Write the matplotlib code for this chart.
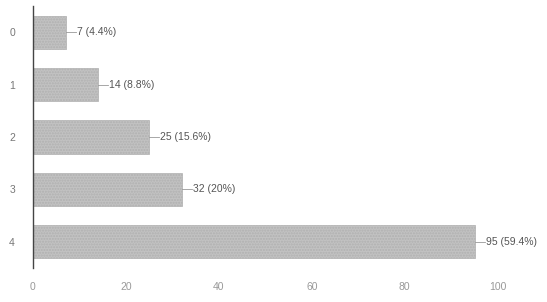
import matplotlib.pyplot as plt
import numpy as np

# data
categories = ['0', '1', '2', '3', '4']
counts = [7, 14, 25, 32, 95]
percents = ['4.4%', '8.8%', '15.6%', '20%', '59.4%']
x_ticks = [0, 20, 40, 60, 80, 100]

plt.rcParams['font.family'] = ['Liberation Sans', 'DejaVu Sans']

fig = plt.figure(figsize=(5.47, 3.02), dpi=100)
ax = fig.add_axes([33 / 547, 34 / 302, 488 / 547, 262 / 302])

y = np.arange(len(categories))
ax.barh(y, counts, height=0.63, color='#c2c2c2', edgecolor='#b0b0b0',
        linewidth=0.5, hatch='......')

# value labels with short leader lines
for yi, c, p in zip(y, counts, percents):
    ax.plot([c, c + 2.2], [yi, yi], color='#999999', lw=0.6)
    ax.text(c + 2.4, yi, f'{c} ({p})', va='center', ha='left',
            fontsize=7.5, color='#555555')

ax.set_xlim(0, 105)
ax.set_ylim(4.5, -0.5)
ax.set_yticks(y)
ax.set_yticklabels(categories, fontsize=7.5, color='#777777')
ax.set_xticks(x_ticks)
ax.set_xticklabels([str(t) for t in x_ticks], fontsize=7.5, color='#999999')
ax.tick_params(axis='both', length=0, pad=10)
ax.tick_params(axis='y', pad=13)

for side in ['top', 'right', 'bottom']:
    ax.spines[side].set_visible(False)
ax.spines['left'].set_color('#444444')
ax.spines['left'].set_linewidth(1.0)

fig.savefig('out.png', dpi=100)
